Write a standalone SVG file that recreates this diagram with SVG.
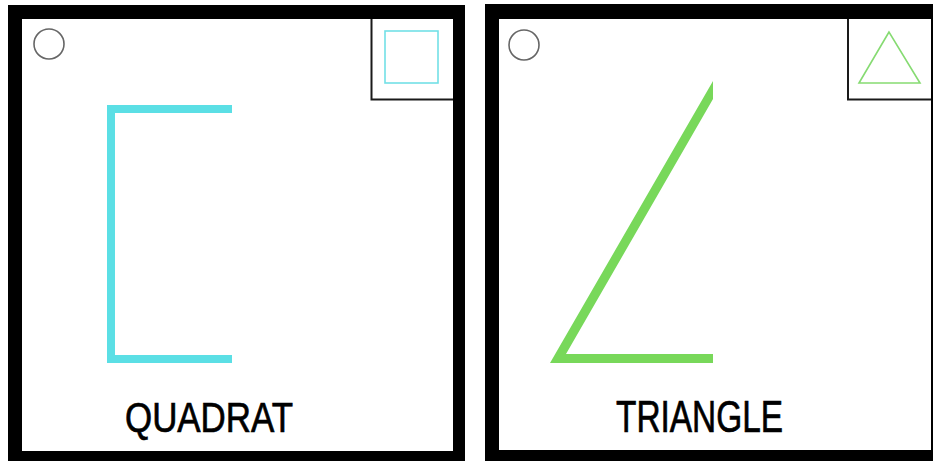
<svg xmlns="http://www.w3.org/2000/svg" width="933" height="461" viewBox="0 0 933 461">
  <style>
    .frame { fill: #000; }
    .inner { fill: #fff; }
    .dot { fill: none; stroke: #666; stroke-width: 1.6; }
    .inset { fill: none; stroke: #1a1a1a; stroke-width: 2; }
    .label { font-family: "Liberation Sans", Arial, sans-serif; fill: #000; stroke: #000; stroke-width: 0.7; }
  </style>
  <rect x="0" y="0" width="933" height="461" fill="#fff"/>
  <g id="panel-quadrat">
    <rect class="frame" x="8" y="5" width="457" height="470"/>
    <rect class="inner" x="22" y="19" width="431" height="432"/>
    <circle class="dot" cx="49" cy="44" r="15"/>
    <polyline class="inset" points="371.5,19 371.5,99.5 453,99.5"/>
    <rect x="385" y="31" width="53" height="52" fill="none" stroke="#72E0E6" stroke-width="1.6"/>
    <path d="M232,109 H111 V359 H232" fill="none" stroke="#5BDFE5" stroke-width="8" stroke-linejoin="miter"/>
    <text class="label" x="209" y="432" font-size="42" text-anchor="middle" textLength="168" lengthAdjust="spacingAndGlyphs">QUADRAT</text>
  </g>
  <g id="panel-triangle">
    <rect class="frame" x="485" y="4" width="470" height="470"/>
    <rect class="inner" x="499" y="19" width="432" height="431"/>
    <circle class="dot" cx="524" cy="45" r="15"/>
    <polyline class="inset" points="848,19 848,99.5 931,99.5"/>
    <polygon points="889,32 859,83 920,83" fill="none" stroke="#86DB72" stroke-width="1.6" stroke-linejoin="miter"/>
    <polygon points="713,81 550,363 713,363 713,354 566,354 713,99" fill="#78D85A"/>
    <text class="label" x="699.5" y="432" font-size="44" text-anchor="middle" textLength="167" lengthAdjust="spacingAndGlyphs">TRIANGLE</text>
  </g>
</svg>
